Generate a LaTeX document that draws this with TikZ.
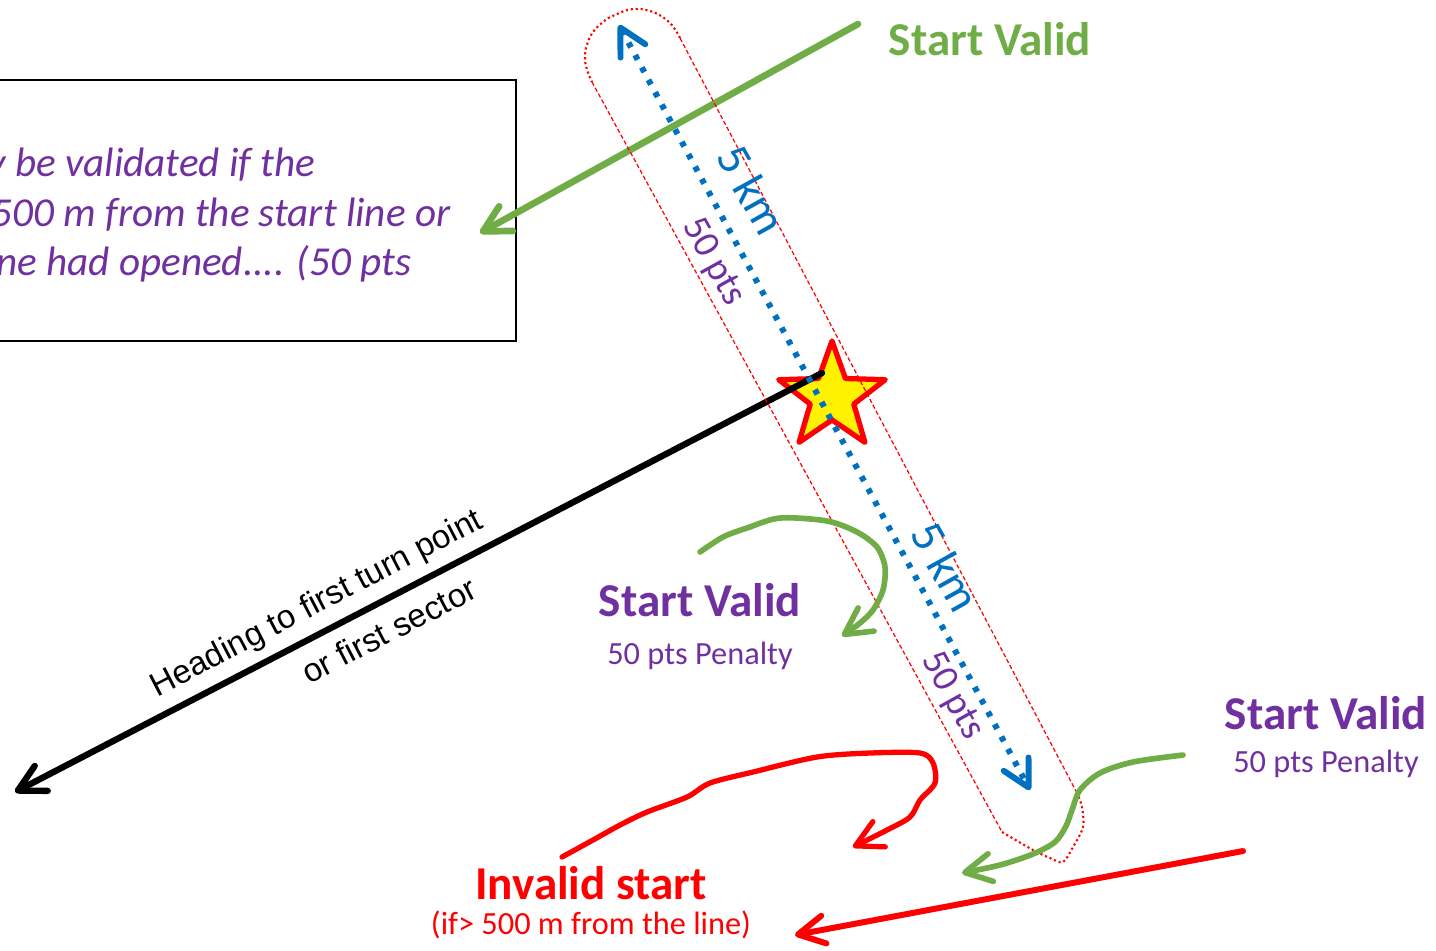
\documentclass[tikz,border=0pt]{standalone}
\usepackage{fontspec}
\setmainfont{Carlito}
\newfontfamily\arialfont{Liberation Sans}
\usetikzlibrary{arrows.meta,shapes.geometric}
\definecolor{okgreen}{RGB}{112,173,71}
\definecolor{penpurple}{RGB}{112,48,160}
\definecolor{kmblue}{RGB}{0,112,192}

\begin{document}
\begin{tikzpicture}[x=0.01cm, y=-0.01cm,
		track/.style={line cap=round, line join=round, -{Straight Barb[round, length=7.5pt, width=8pt]}},
		bigtxt/.style={font=\bfseries\fontsize{13.4}{16}\selectfont, anchor=base, inner sep=0pt},
		smalltxt/.style={font=\fontsize{9.2}{11}\selectfont, anchor=base, inner sep=0pt},
		notetxt/.style={font=\itshape\fontsize{11.7}{14}\selectfont, text=penpurple, anchor=base east, inner sep=0pt},
		kmtxt/.style={font=\fontsize{13.4}{15}\selectfont, text=kmblue, rotate=-61, inner sep=0pt},
		ptstxt/.style={font=\fontsize{10.8}{12}\selectfont, text=penpurple, rotate=-61, inner sep=0pt},
		headtxt/.style={font=\arialfont\fontsize{9.4}{11}\selectfont, sloped, inner sep=0pt},
		capside/.style={red, line width=0.35pt, dash pattern=on 1.2pt off 0.7pt},
		capend/.style={red, line width=0.6pt, dash pattern=on 0.6pt off 0.8pt}]
		\path[use as bounding box, clip] (0,0) rectangle (1436,950);

		\node[draw, line width=0.5pt, minimum width=5.46cm, minimum height=2.61cm, inner sep=0pt] (notebox) at (243,210.5) {};
		\node[notetxt] (note1) at (316,176) {y be validated if the};
		\node[notetxt] (note2) at (451,226) {500 m from the start line or};
		\node[notetxt] (note3) at (412,275) {ne had opened.... (50 pts};

		\coordinate (greenfrom) at (858,24);
		\coordinate (greento) at (480,233);
		\draw[track, okgreen, line width=1.9pt] (greenfrom) -- (greento);
		\node[bigtxt, text=okgreen] (validtop) at (990,55) {Start Valid};

		\node[star, star points=5, star point ratio=2.45, minimum size=1.12cm, inner sep=0pt,
			draw=red, fill=yellow, line width=1.5pt, line join=round] (star) at (832,397) {};

		\coordinate (headfrom) at (822,373);
		\coordinate (headto) at (15,792);
		\draw[line cap=round, line join=round, {Straight Barb[round, length=7.5pt, width=8pt]}-, line width=1.8pt] (headto) --
			node[pos=0.39, above=2.5pt, headtxt] (headlbl) {Heading to first turn point}
			node[pos=0.447, below=3.8pt, headtxt] (sectorlbl) {or first sector} (headfrom);

		\draw[capside] (592,82) -- (1002,832);
		\draw[capside] (1077,793) -- (680,38);
		\draw[capend] plot[smooth, tension=0.7] coordinates {(680,38) (670,23) (653,12) (633,9) (615,15) (603,22) (590,37) (585,60) (592,82)};
		\draw[capend] plot[smooth, tension=0.5] coordinates {(1002,832) (1033,850) (1050,858) (1063,862) (1073,847) (1083,827) (1082,807) (1077,793)};

		\coordinate (kmtop) at (619,25);
		\coordinate (kmbot) at (1030,790);
		\draw[kmblue, line width=1.7pt, dash pattern=on 1.5pt off 2.5pt,
			{Straight Barb[round, length=7.5pt, width=8pt]}-{Straight Barb[round, length=7.5pt, width=8pt]}] (kmtop) -- (kmbot);
		\node[kmtxt] (km1) at (752,190) {5 km};
		\node[ptstxt] (pts1) at (713,262) {50 pts};
		\node[kmtxt] (km2) at (946,567) {5 km};
		\node[ptstxt] (pts2) at (952,696) {50 pts};

		\draw[track, okgreen, line width=1.6pt] plot[smooth, tension=0.5] coordinates
			{(700,552) (723,537) (747,528) (780,518) (827,521) (857,532) (877,547) (885,567) (883,590) (873,610) (860,623) (842,636)};
		\node[bigtxt, text=penpurple] (validmid) at (700,616) {Start Valid};
		\node[smalltxt, text=penpurple] (penaltymid) at (700,664) {50 pts Penalty};

		\draw[track, okgreen, line width=1.6pt] plot[smooth, tension=0.5] coordinates
			{(1183,755) (1133,762) (1100,773) (1080,790) (1072,810) (1066,826) (1055,842) (1033,854) (1000,865) (962,873)};
		\node[bigtxt, text=penpurple] (validright) at (1326,729) {Start Valid};
		\node[smalltxt, text=penpurple] (penaltyright) at (1326,772) {50 pts Penalty};

		\draw[track, red, line width=1.5pt] plot[smooth, tension=0.5] coordinates
			{(562,857) (593,840) (620,825) (647,812) (687,797) (710,783) (753,772) (817,757) (870,753) (920,753) (933,763) (935,783) (920,800) (910,817) (887,830) (853,847)};
		\coordinate (redfrom) at (1243,851);
		\coordinate (redto) at (795,935);
		\draw[track, red, line width=1.7pt] (redfrom) -- (redto);
		\node[bigtxt, text=red] (invalid) at (591,899) {Invalid start};
		\node[smalltxt, text=red] (invalidnote) at (591,934) {(if> 500 m from the line)};
	\end{tikzpicture}
\end{document}
